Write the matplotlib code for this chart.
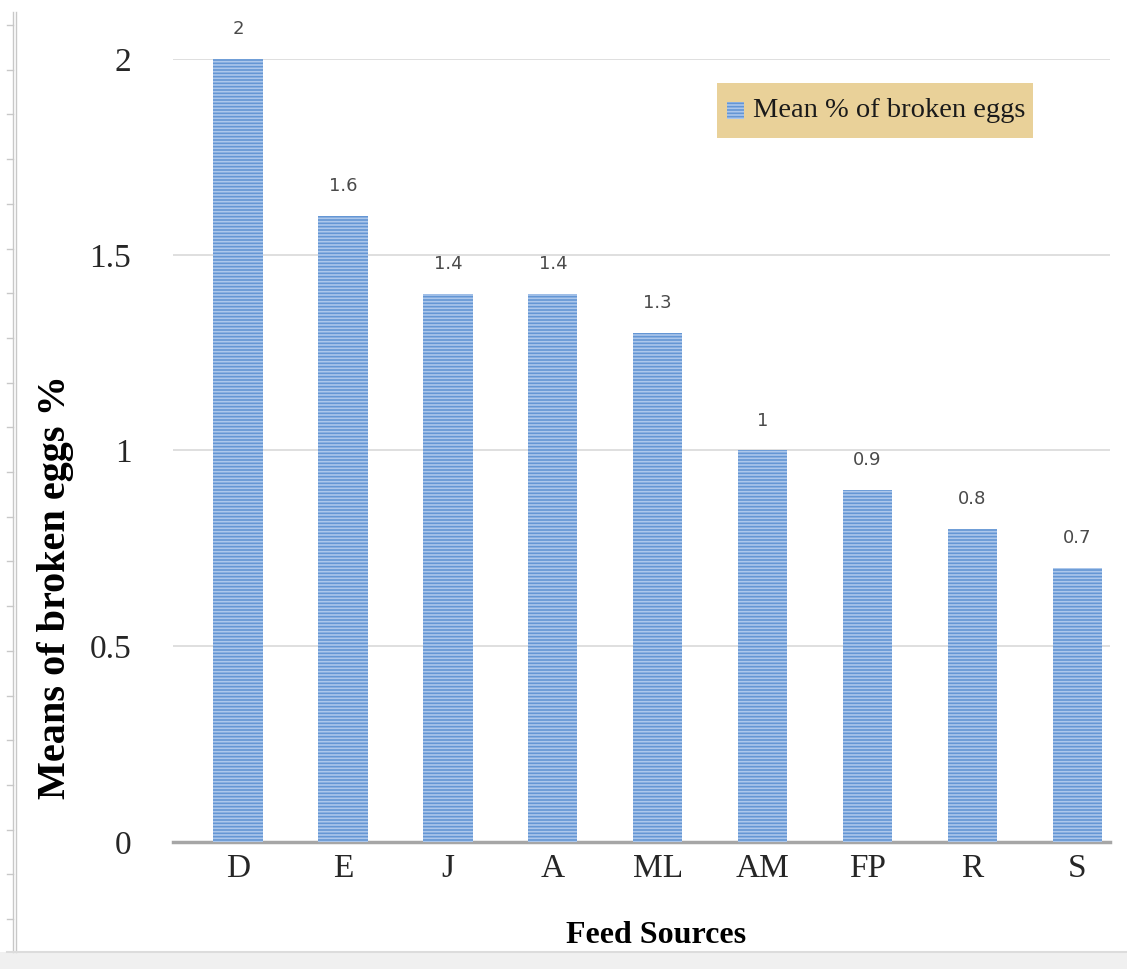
import matplotlib
matplotlib.use("Agg")
import matplotlib.pyplot as plt
import numpy as np
from matplotlib.patches import Rectangle
from matplotlib.lines import Line2D

sources = ["D", "E", "J", "A", "ML", "AM", "FP", "R", "S"]
broken_pct = [2, 1.6, 1.4, 1.4, 1.3, 1, 0.9, 0.8, 0.7]
yticks = [0, 0.5, 1, 1.5, 2]
ytick_labels = ["0", "0.5", "1", "1.5", "2"]

BAR = "#6496d4"
STRIPE = "#acc7eb"
GRID = "#d9d9d9"
AXIS = "#a6a6a6"
SERIF = "Liberation Serif"

plt.rcParams["hatch.linewidth"] = 1.2

fig = plt.figure(figsize=(11.27, 9.69), dpi=100)
ax = fig.add_axes([173 / 1127, 0.1311, 937 / 1127, 0.808])

x = np.arange(len(sources))
ax.bar(x, broken_pct, width=0.47, color=BAR, edgecolor=STRIPE,
       hatch="-----", linewidth=0, zorder=3)
for xi, v in zip(x, broken_pct):
    ax.annotate(f"{v:g}", (xi, v), textcoords="offset points", xytext=(0, 15),
                ha="center", va="bottom", fontsize=13, color="#4a4a4a",
                family="DejaVu Sans", annotation_clip=False)

ax.set_xlim(-0.62, 8.31)
ax.set_ylim(0, 2)
ax.set_yticks(yticks)
ax.set_yticklabels(ytick_labels, family=SERIF, fontsize=24, color="#262626")
ax.set_xticks(x)
ax.set_xticklabels(sources, family=SERIF, fontsize=24, color="#262626")
ax.tick_params(length=0, pad=30, axis="y")
ax.tick_params(length=0, pad=8, axis="x")
ax.yaxis.grid(True, color=GRID, lw=1.2, zorder=0)
for sp in ("top", "right", "left"):
    ax.spines[sp].set_visible(False)
ax.spines["bottom"].set_color(AXIS)
ax.spines["bottom"].set_linewidth(2.5)

fig.text(0.049, 0.394, "Means of broken eggs %", rotation=90, ha="center",
         va="center", family=SERIF, fontweight="bold", fontsize=29)
fig.text(0.582, 0.035, "Feed Sources", ha="center", va="center",
         family=SERIF, fontweight="bold", fontsize=23)

# legend box with tan paper fill
leg_x0, leg_y0, leg_w, leg_h = 717 / 1127, 1 - 138 / 969, 316 / 1127, 55 / 969
fig.patches.append(Rectangle((leg_x0, leg_y0), leg_w, leg_h,
                             transform=fig.transFigure, facecolor="#e9d199",
                             edgecolor="none", zorder=5))
fig.patches.append(Rectangle((leg_x0 + 10 / 1127, leg_y0 + 19 / 969), 17 / 1127, 17 / 969,
                             transform=fig.transFigure, facecolor=BAR,
                             edgecolor=STRIPE, hatch="-----", linewidth=0, zorder=6))
fig.text(leg_x0 + 36 / 1127, leg_y0 + leg_h / 2, "Mean % of broken eggs",
         ha="left", va="center", family=SERIF, fontsize=20.5, color="#1a1a1a",
         zorder=7)

# ruler strip on the left edge and grey band along the bottom
for xp in (13 / 1127, 16 / 1127):
    fig.add_artist(Line2D([xp, xp], [1 - 12 / 969, 1 - 952 / 969],
                          transform=fig.transFigure, color="#c8c8c8", lw=1))
for yp in np.arange(25, 940, 44.7):
    fig.add_artist(Line2D([7 / 1127, 13 / 1127], [1 - yp / 969, 1 - yp / 969],
                          transform=fig.transFigure, color="#c8c8c8", lw=1))
fig.patches.append(Rectangle((0, 0), 1, 17 / 969, transform=fig.transFigure,
                             facecolor="#f0f0f0", edgecolor="none"))
fig.add_artist(Line2D([7 / 1127, 1], [17 / 969, 17 / 969],
                      transform=fig.transFigure, color="#dcdcdc", lw=1.5))

fig.savefig("out.png", facecolor="white")
